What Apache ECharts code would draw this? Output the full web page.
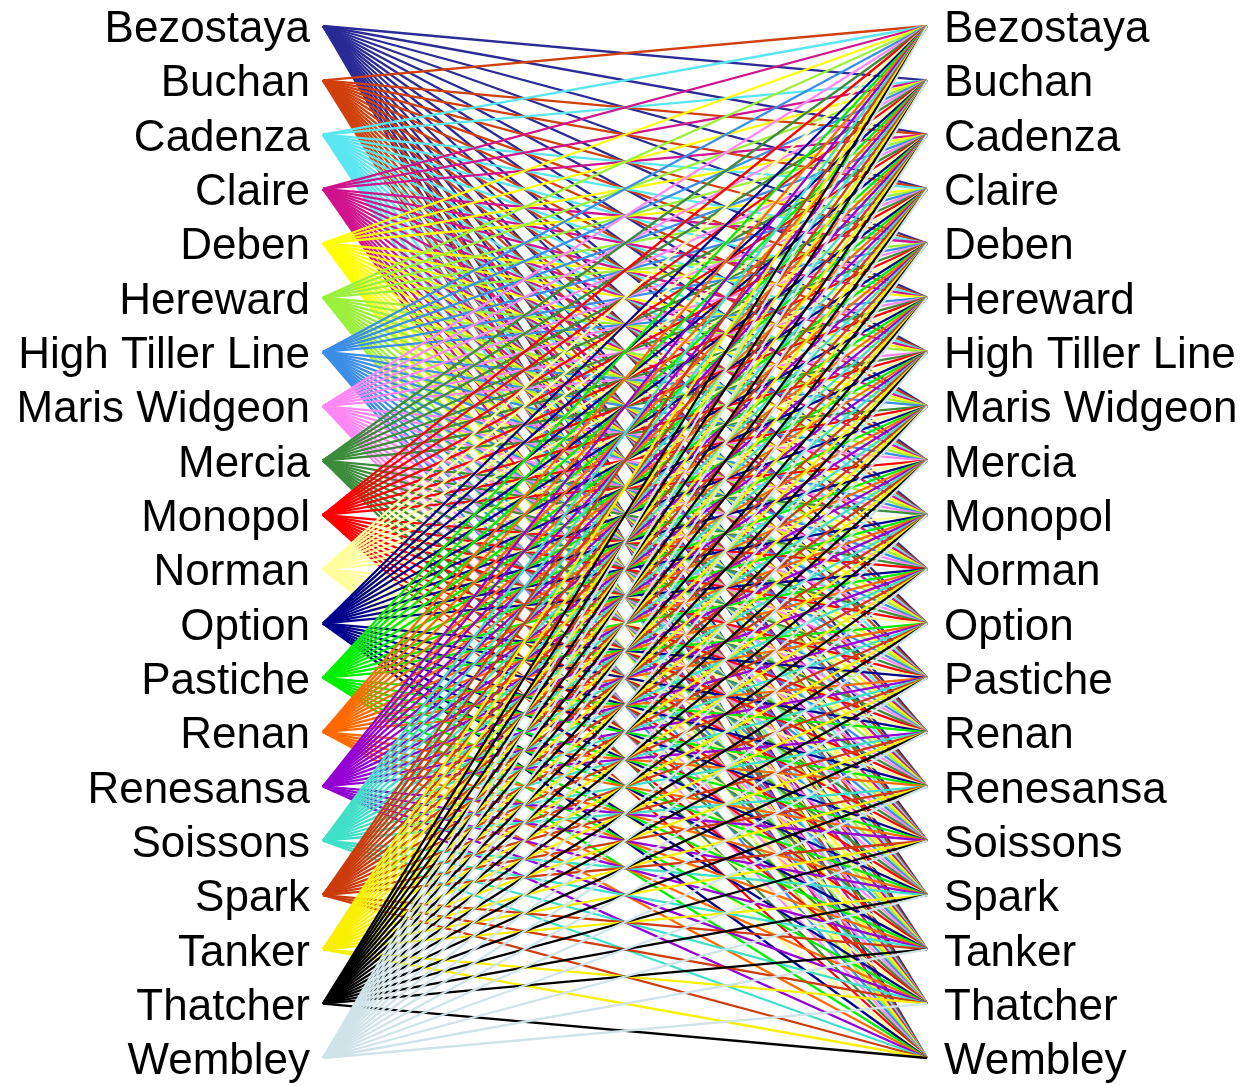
<!DOCTYPE html>
<html>
<head>
<meta charset="utf-8">
<script src="https://cdn.jsdelivr.net/npm/echarts@6/dist/echarts.min.js"></script>
<style>html,body{margin:0;padding:0;background:#fff;}#chart{width:1245px;height:1086px;}</style>
</head>
<body>
<div id="chart"></div>
<script>
// Varieties (left and right columns share the same list)
const leftVarieties = ["Bezostaya","Buchan","Cadenza","Claire","Deben","Hereward","High Tiller Line","Maris Widgeon","Mercia","Monopol","Norman","Option","Pastiche","Renan","Renesansa","Soissons","Spark","Tanker","Thatcher","Wembley"];
const rightVarieties = ["Bezostaya","Buchan","Cadenza","Claire","Deben","Hereward","High Tiller Line","Maris Widgeon","Mercia","Monopol","Norman","Option","Pastiche","Renan","Renesansa","Soissons","Spark","Tanker","Thatcher","Wembley"];
// Link matrix: row = left variety, column = right variety (1 = line drawn)
const linkRows = [
  "01111111111111111111",
  "10111111111111111111",
  "11011111111111111111",
  "11101111111111111111",
  "11110111111111111111",
  "11111011111111111111",
  "11111101111111111111",
  "11111110111111111111",
  "11111111011111111111",
  "11111111101111111111",
  "11111111110111111111",
  "11111111111011111111",
  "11111111111101111111",
  "11111111111110111111",
  "11111111111111011111",
  "11111111111111101111",
  "11111111111111110111",
  "11111111111111111011",
  "11111111111111111101",
  "11111111111111111110"
];

// Line colour for each left variety
const varietyColors = ["#2b2b96","#d0400c","#5ae6f0","#d0148c","#ffff00","#9cf03c","#3c8ee6","#ff88f4","#3c8c3c","#ff0000","#ffff9c","#00008c","#00f000","#ff6a00","#9400d3","#40e0c8","#cc3c0c","#f8f000","#000000","#cfe3e8"];

const lineData = [];
leftVarieties.forEach((l, i) => {
  rightVarieties.forEach((r, j) => {
    if (linkRows[i][j] === "1") {
      lineData.push({ coords: [[0, i], [1, j]], lineStyle: { color: varietyColors[i] } });
    }
  });
});

const labelStyle = {
  color: '#000', fontSize: 44, fontFamily: 'Liberation Sans, Arial, sans-serif',
  formatter: v => '{t|' + v + '}',
  rich: { t: { fontSize: 44, fontFamily: 'Liberation Sans, Arial, sans-serif', color: '#000', lineHeight: 44, padding: [8, 0, 0, 0] } }
};
const chart = echarts.init(document.getElementById('chart'), null, { renderer: 'canvas' });
chart.setOption({
  backgroundColor: '#ffffff',
  animation: false,
  grid: { left: 323, right: 318, top: 25, bottom: 28, containLabel: false },
  xAxis: { type: 'value', min: 0, max: 1, show: false },
  yAxis: [
    { type: 'category', data: leftVarieties, inverse: true, boundaryGap: false, position: 'left',
      axisLine: { show: false }, axisTick: { show: false }, splitLine: { show: false },
      axisLabel: Object.assign({ margin: 13, interval: 0 }, labelStyle) },
    { type: 'category', data: rightVarieties, inverse: true, boundaryGap: false, position: 'right',
      axisLine: { show: false }, axisTick: { show: false }, splitLine: { show: false },
      axisLabel: Object.assign({ margin: 17, interval: 0 }, labelStyle) }
  ],
  series: [{
    type: 'lines',
    coordinateSystem: 'cartesian2d',
    xAxisIndex: 0, yAxisIndex: 0,
    polyline: false,
    lineStyle: { width: 2.3, opacity: 1 },
    silent: true,
    data: lineData
  }]
});
</script>
</body>
</html>
